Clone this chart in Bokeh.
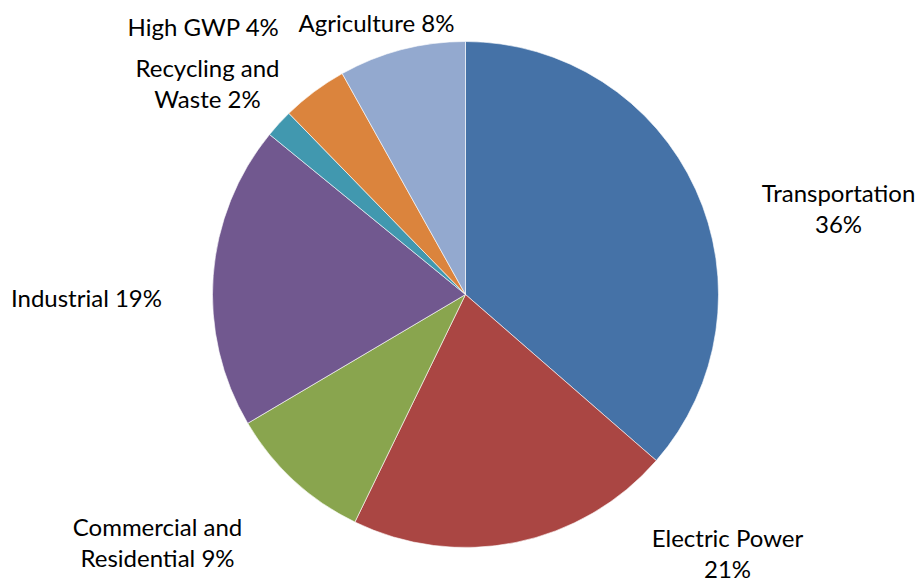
import math
from bokeh.plotting import figure
from bokeh.models import Range1d, ColumnDataSource
from bokeh.core.properties import value
from bokeh.embed import file_html
from bokeh.resources import INLINE

categories = ["Transportation", "Electric Power", "Commercial and Residential",
              "Industrial", "Recycling and Waste", "High GWP", "Agriculture"]
shares = [36.4, 20.8, 9.3, 19.4, 1.8, 4.2, 8.1]
colors = ["#4572A7", "#AA4643", "#89A54E", "#71588F", "#4198AF", "#DB843D", "#93A9CF"]
# label line breaks (layout)
label_lines = [["Transportation", "{p}%"], ["Electric Power", "{p}%"],
               ["Commercial and", "Residential {p}%"], ["Industrial {p}%"],
               ["Recycling and", "Waste {p}%"], ["High GWP {p}%"], ["Agriculture {p}%"]]
# label centre positions in screen px (layout)
label_pos = [(838, 192), (727, 537), (157, 526), (86, 297), (207, 67), (203, 26), (376, 22)]

W, H = 922, 584
CX, CY, R = 465, 294, 253
LINE = 31

p = figure(width=W, height=H, output_backend="svg", toolbar_location=None,
           x_range=Range1d(0, W), y_range=Range1d(0, H), min_border=0)
p.axis.visible = False
p.grid.visible = False
p.outline_line_color = None
p.background_fill_color = "white"
p.border_fill_color = "white"

total = sum(shares)
starts, ends = [], []
cum = 0.0
for s in shares:
    a0 = math.pi / 2 - 2 * math.pi * cum / total
    cum += s
    a1 = math.pi / 2 - 2 * math.pi * cum / total
    starts.append(a1)
    ends.append(a0)

src = ColumnDataSource(dict(x=[CX] * len(shares), y=[H - CY] * len(shares),
                            start=starts, end=ends, color=colors))
p.wedge(x="x", y="y", radius=R, start_angle="start", end_angle="end",
        fill_color="color", line_color="white", line_width=0.6, source=src)

tx, ty, tt = [], [], []
for lines, (lx, ly), s in zip(label_lines, label_pos, shares):
    for i, ln in enumerate(lines):
        tx.append(lx)
        ty.append(H - (ly + i * LINE))
        tt.append(ln.format(p=round(s)))
p.text(x=tx, y=ty, text=tt, text_align="center", text_baseline="middle",
       text_font=value("Lato"), text_font_size="24px", text_color="#000000")

open("out.html", "w").write(file_html(p, INLINE))
